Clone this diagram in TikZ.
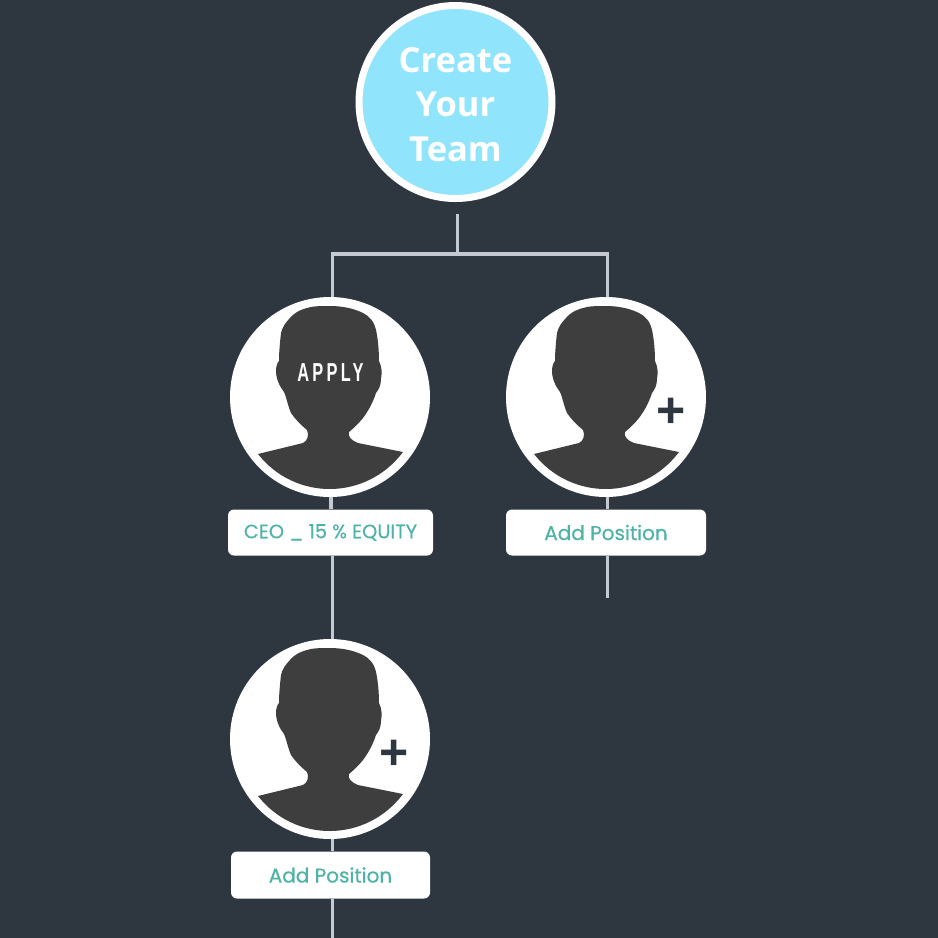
\documentclass[tikz,border=0pt]{standalone}
\usepackage{fontspec}
\setmainfont{Poppins}
\newfontfamily\titlefont{Open Sans}
\newfontfamily\applyfont[LetterSpace=20]{Liberation Sans}
\newfontfamily\plusfont{Liberation Sans}
\usetikzlibrary{positioning}
\definecolor{mybg}{HTML}{2E3740}
\definecolor{myline}{HTML}{C4CACF}
\definecolor{myhead}{HTML}{3E3E3E}
\definecolor{myteal}{HTML}{4DB3A6}
\definecolor{mysky}{HTML}{90E4FB}

\begin{document}
\begin{tikzpicture}[
  x=1pt, y=-1pt,
  link/.style={draw=myline, line width=3.2pt},
  start/.style={circle, draw=white, line width=7pt, fill=mysky, minimum size=193pt, inner sep=0pt},
  title/.style={inner sep=0pt, align=center, text=white, font=\titlefont\bfseries\fontsize{34.5}{44.5}\selectfont},
  member/.style={circle, fill=white, minimum size=200pt, inner sep=0pt},
  tag/.style={rectangle, rounded corners=6pt, fill=white, minimum height=46pt, inner sep=0pt,
    text=myteal, font=\addfontfeature{FakeBold=0.4}\fontsize{20}{24}\selectfont},
  plus/.style={text=mybg, inner sep=0pt, font=\plusfont\bfseries\fontsize{50}{50}\selectfont},
  apply/.style={text=white, inner sep=0pt, xscale=0.63, transform shape, font=\applyfont\bfseries\fontsize{26}{26}\selectfont},
  head/.pic={
    \fill[myhead] (-72,57) .. controls (-35,104) and (36,104) .. (73,55)
      -- (28,46) .. controls (22,44) and (17,39) .. (19,35)
      .. controls (25,30) and (29,26) .. (33,21)
      .. controls (39,13) and (43,5) .. (46,-4)
      .. controls (49,-8) and (51,-12) .. (51,-18)
      .. controls (52,-24) and (52,-30) .. (49,-36)
      .. controls (49,-46) and (48,-58) .. (46,-67)
      .. controls (44,-76) and (39,-81) .. (33,-84)
      .. controls (23,-89) and (11,-91) .. (0,-91)
      .. controls (-9,-91) and (-17,-91) .. (-23,-89)
      .. controls (-31,-87) and (-37,-83) .. (-40,-79)
      .. controls (-45,-74) and (-48,-69) .. (-49,-64)
      .. controls (-50,-55) and (-51,-45) .. (-51,-36)
      .. controls (-53,-34) and (-54,-30) .. (-54,-26)
      .. controls (-54,-18) and (-50,-10) .. (-46,-5)
      .. controls (-44,-1) and (-42,9) .. (-39,16)
      .. controls (-34,23) and (-29,28) .. (-23,33)
      .. controls (-21,37) and (-22,44) .. (-27,46) -- cycle;
  }
]
\fill[mybg] (0,0) rectangle (938,938);
\useasboundingbox (0,0) rectangle (938,938);

\coordinate (top) at (457.5,214);
\coordinate (stem) at (457.5,256);
\coordinate (fork) at (457.5,254);
\coordinate (openright) at (607.5,598);
\coordinate (openleft) at (332.5,938);

\node[start] (team) at (455.5,102) {};
\node[title] (teamtext) at (455.5,104.5) {Create\\Your\\Team};
\node[member] (ceo) at (330,397) {};
\node[member] (right) at (606,397) {};
\node[member] (lower) at (330,739) {};
\node[tag, minimum width=205pt, font=\addfontfeature{FakeBold=0.4}\fontsize{19.4}{24}\selectfont] (ceotag) at (330.5,532.5) {CEO \_ 15 \% EQUITY};
\node[tag, minimum width=200pt] (righttag) at (606,532.5) {Add Position};
\node[tag, minimum width=199pt, minimum height=47pt] (lowertag) at (330.5,875) {Add Position};

\draw[link] (top) -- (stem);
\draw[link] ([xshift=2.5pt]ceo.north) |- (fork) -| ([xshift=1.5pt]right.north);
\draw[link] ([xshift=1pt]ceo.south) -- ([xshift=0.5pt]ceotag.north);
\draw[link] ([xshift=1.5pt]right.south) -- ([xshift=1.5pt]righttag.north);
\draw[link] ([xshift=2pt]ceotag.south) -- ([xshift=2.5pt]lower.north);
\draw[link] ([xshift=1.5pt]righttag.south) -- (openright);
\draw[link] ([xshift=2.5pt]lower.south) -- ([xshift=2pt]lowertag.north);
\draw[link] ([xshift=2pt]lowertag.south) -- (openleft);

\pic at (330,397) {head};
\pic at (606,397) {head};
\pic at (330,739) {head};
\node[apply] (applytext) at (330.5,372.5) {APPLY};
\node[plus] (plusright) at (671,413) {+};
\node[plus] (pluslower) at (394.5,755) {+};
\end{tikzpicture}
\end{document}
